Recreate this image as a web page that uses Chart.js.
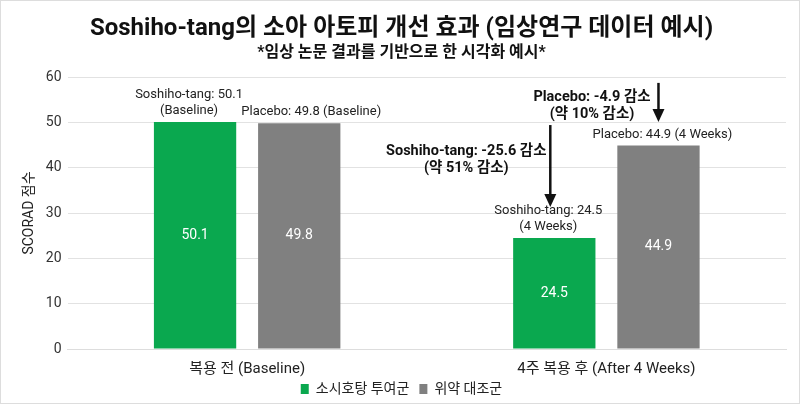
<!DOCTYPE html>
<html lang="ko">
<head>
<meta charset="UTF-8">
<title>Soshiho-tang SCORAD</title>
<script src="https://cdn.jsdelivr.net/npm/chart.js"></script>
<style>
  html, body { margin: 0; padding: 0; background: #fff; }
  #wrap { width: 800px; height: 404px; }
</style>
</head>
<body>
<div id="wrap"><canvas id="scoradChart" width="800" height="404"></canvas></div>
<script>
const categories = ['복용 전 (Baseline)', '4주 복용 후 (After 4 Weeks)'];
const soshihoValues = [50.1, 24.5];
const placeboValues = [49.8, 44.9];
const soshihoTopLabels = [['Soshiho-tang: 50.1', '(Baseline)'], ['Soshiho-tang: 24.5', '(4 Weeks)']];
const placeboTopLabels = [['Placebo: 49.8 (Baseline)'], ['Placebo: 44.9 (4 Weeks)']];
const changeNotes = [
  { lines: ['Placebo: -4.9 감소', '(약 10% 감소)'], series: 1, from: 58.7, to: 50.1, textX: 0.96, textY: 55.4 },
  { lines: ['Soshiho-tang: -25.6 감소', '(약 51% 감소)'], series: 0, from: 49.4, to: 31.3, textX: 0.61, textY: 43.6 }
];

const FONT = 'Roboto, "Noto Sans CJK KR", sans-serif';
// small horizontal nudges of the above-bar labels, per dataset / category
const labelNudge = [[-6, -6], [12, 4]];

const labelPlugin = {
  id: 'barLabels',
  afterDatasetsDraw(chart) {
    const ctx = chart.ctx;
    const tops = [soshihoTopLabels, placeboTopLabels];
    ctx.save();
    chart.data.datasets.forEach((ds, di) => {
      const meta = chart.getDatasetMeta(di);
      meta.data.forEach((bar, i) => {
        // value inside bar
        ctx.fillStyle = '#ffffff';
        ctx.font = '14px ' + FONT;
        ctx.textAlign = 'center';
        ctx.textBaseline = 'middle';
        ctx.fillText(ds.data[i].toFixed(1), bar.x, (bar.y + bar.base) / 2);
        // label above bar
        const lines = tops[di][i];
        ctx.fillStyle = '#222222';
        ctx.font = '13px ' + FONT;
        for (let k = 0; k < lines.length; k++) {
          const y = bar.y - 11 - (lines.length - 1 - k) * 16;
          ctx.fillText(lines[k], bar.x + labelNudge[di][i], y);
        }
      });
    });

    // change arrows
    const yS = chart.scales.y;
    const xS = chart.scales.x;
    changeNotes.forEach(n => {
      const bar = chart.getDatasetMeta(n.series).data[1];
      const x = bar.x - (n.series === 0 ? 4 : 0);
      const y1 = yS.getPixelForValue(n.from);
      const y2 = yS.getPixelForValue(n.to);
      ctx.strokeStyle = '#111';
      ctx.fillStyle = '#111';
      ctx.lineWidth = 2.5;
      ctx.beginPath();
      ctx.moveTo(x, y1);
      ctx.lineTo(x, y2 - 11);
      ctx.stroke();
      ctx.beginPath();
      ctx.moveTo(x - 6, y2 - 13);
      ctx.lineTo(x + 6, y2 - 13);
      ctx.lineTo(x, y2);
      ctx.closePath();
      ctx.fill();
      ctx.font = 'bold 14.5px ' + FONT;
      ctx.textAlign = 'center';
      ctx.textBaseline = 'middle';
      const tx = xS.getPixelForValue(n.textX);
      const ty = yS.getPixelForValue(n.textY);
      n.lines.forEach((t, k) => ctx.fillText(t, tx, ty + k * 17));
    });

    // frame
    ctx.strokeStyle = '#dddddd';
    ctx.lineWidth = 1;
    ctx.strokeRect(0.5, 0.5, chart.width - 1, chart.height - 1);
    ctx.restore();
  }
};

// pull the legend up, tight under the category labels
const legendLift = {
  id: 'legendLift',
  afterLayout(chart) {
    const lg = chart.legend;
    if (!lg) return;
    lg.top -= 17;
    lg.bottom -= 17;
  }
};

new Chart(document.getElementById('scoradChart'), {
  type: 'bar',
  data: {
    labels: categories,
    datasets: [
      { label: '소시호탕 투여군', data: soshihoValues, backgroundColor: '#0aa84f' },
      { label: '위약 대조군', data: placeboValues, backgroundColor: '#808080' }
    ]
  },
  options: {
    responsive: false,
    animation: false,
    devicePixelRatio: 1,
    categoryPercentage: 0.58,
    barPercentage: 0.79,
    layout: { padding: { left: 17, right: 14, top: 0, bottom: -19 } },
    plugins: {
      title: {
        display: true,
        text: 'Soshiho-tang의 소아 아토피 개선 효과 (임상연구 데이터 예시)',
        color: '#111',
        font: { family: FONT, size: 24, weight: 'bold' },
        padding: { top: 15, bottom: 0 }
      },
      subtitle: {
        display: true,
        text: '*임상 논문 결과를 기반으로 한 시각화 예시*',
        color: '#111',
        font: { family: FONT, size: 16, weight: 'bold' },
        padding: { top: 0, bottom: 14 }
      },
      legend: {
        position: 'bottom',
        labels: {
          boxWidth: 8, boxHeight: 10, padding: 10,
          color: '#222',
          font: { family: FONT, size: 14 }
        }
      },
      tooltip: { enabled: false }
    },
    scales: {
      x: {
        grid: { display: false, drawTicks: false },
        border: { color: '#dddddd' },
        ticks: { color: '#222', font: { family: FONT, size: 15 }, padding: 11 }
      },
      y: {
        min: 0, max: 60,
        ticks: { stepSize: 10, color: '#333', font: { family: FONT, size: 14 }, padding: 6 },
        grid: { color: '#e2e2e2', drawTicks: false },
        border: { display: false },
        title: { display: true, text: 'SCORAD 점수', color: '#222', font: { family: FONT, size: 14 }, padding: { top: 4, bottom: 2 } }
      }
    }
  },
  plugins: [labelPlugin, legendLift]
});
</script>
</body>
</html>
